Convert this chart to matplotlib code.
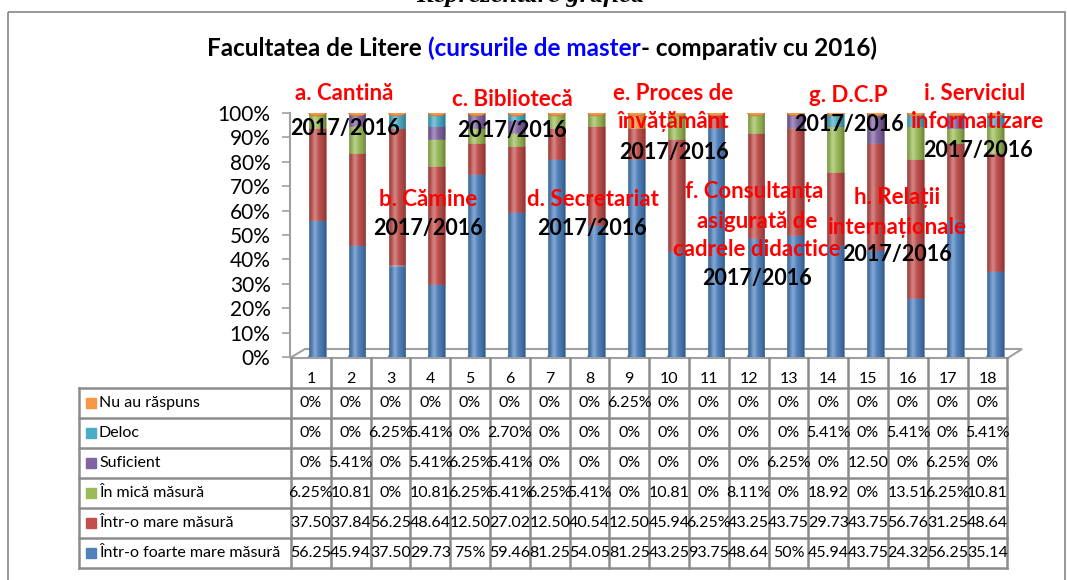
import numpy as np
import matplotlib
matplotlib.use('Agg')
import matplotlib.pyplot as plt
from matplotlib.patches import Rectangle, Ellipse, Polygon

plt.rcParams['font.family'] = ['Lato', 'DejaVu Sans']

# data (percent)
categories = [str(i) for i in range(1, 19)]
foarte_mare = [56.25, 45.94, 37.50, 29.73, 75, 59.46, 81.25, 54.05, 81.25,
               43.25, 93.75, 48.64, 50, 45.94, 43.75, 24.32, 56.25, 35.14]
mare = [37.50, 37.84, 56.25, 48.64, 12.50, 27.02, 12.50, 40.54, 12.50,
        45.94, 6.25, 43.25, 43.75, 29.73, 43.75, 56.76, 31.25, 48.64]
mica = [6.25, 10.81, 0, 10.81, 6.25, 5.41, 6.25, 5.41, 0,
        10.81, 0, 8.11, 0, 18.92, 0, 13.51, 6.25, 10.81]
suficient = [0, 5.41, 0, 5.41, 6.25, 5.41, 0, 0, 0,
             0, 0, 0, 6.25, 0, 12.50, 0, 6.25, 0]
deloc = [0, 0, 6.25, 5.41, 0, 2.70, 0, 0, 0,
         0, 0, 0, 0, 5.41, 0, 5.41, 0, 5.41]
nu_au = [0, 0, 0, 0, 0, 0, 0, 0, 6.25,
         0, 0, 0, 0, 0, 0, 0, 0, 0]

series = [foarte_mare, mare, mica, suficient, deloc, nu_au]
series_names = ['Într-o foarte mare măsură', 'Într-o mare măsură', 'În mică măsură',
                'Suficient', 'Deloc', 'Nu au răspuns']
colors = ['#4F81BD', '#C0504D', '#9BBB59', '#8064A2', '#4BACC6', '#F79646']

# text boxes over the chart: (text, colour, x px, y px)
notes = [
    ('a. Cantină', 'red', 344, 94), ('2017/2016', 'black', 345, 128),
    ('b. Cămine', 'red', 428, 199), ('2017/2016', 'black', 428, 228),
    ('c. Bibliotecă', 'red', 512, 100), ('2017/2016', 'black', 512, 131),
    ('d. Secretariat', 'red', 593, 199), ('2017/2016', 'black', 592, 228),
    ('e. Proces de', 'red', 673, 93), ('învățământ', 'red', 674, 122),
    ('2017/2016', 'black', 674, 152),
    ('f. Consultanța', 'red', 754, 191), ('asigurată de', 'red', 757, 221),
    ('cadrele didactice', 'red', 757, 250), ('2017/2016', 'black', 757, 279),
    ('g. D.C.P', 'red', 848, 95), ('2017/2016', 'black', 849, 124),
    ('h. Relații', 'red', 897, 198), ('internaționale', 'red', 897, 227),
    ('2017/2016', 'black', 897, 255),
    ('i. Serviciul', 'red', 975, 93), ('informatizare', 'red', 978, 122),
    ('2017/2016', 'black', 978, 150),
]

W, H = 1067, 580
fig = plt.figure(figsize=(W / 100, H / 100), dpi=100)

# background layer in pixel coordinates
ov = fig.add_axes([0, 0, 1, 1], zorder=0)
ov.set_xlim(0, W)
ov.set_ylim(H, 0)
ov.axis('off')

grid_c = '#8C8C8C'
ov.add_patch(Rectangle((8, 12), 1057, 600, fill=False, ec='#868686', lw=1.2))
ov.text(530, 2, 'Reprezentare grafică', family='Liberation Serif', style='italic',
        weight='bold', fontsize=19, ha='center', va='baseline', clip_on=False)

# title in two colours
parts = [('Facultatea de Litere ', 'black'), ('(cursurile de master', '#0000FF'),
         ('- comparativ cu 2016)', 'black')]
fig.canvas.draw()
r = fig.canvas.get_renderer()
objs = []
for s, c in parts:
    objs.append(ov.text(0, 48, s, color=c, fontsize=17.5, weight='bold', va='center'))
widths = [o.get_window_extent(r).width for o in objs]
x0 = 542 - sum(widths) / 2
for o, w in zip(objs, widths):
    o.set_x(x0)
    x0 += w

# floor of the 3d plot
ov.add_patch(Polygon([(290, 358), (305, 349), (1022, 349), (1008, 358)],
                     closed=True, fc='white', ec='#A0A0A0', lw=1.5))

# data table
TL, CW = 291, 39.8
rows_y = [388, 418, 448, 478, 508, 538, 568]
n = len(categories)
for k in range(n + 1):
    ov.plot([TL + k * CW] * 2, [358, 568], color=grid_c, lw=1.8)
ov.plot([79, 79], [388, 568], color=grid_c, lw=1.8)
for y in rows_y:
    ov.plot([79, TL + n * CW], [y, y], color=grid_c, lw=1.8)
for k, c in enumerate(categories):
    ov.text(TL + (k + 0.5) * CW, 379, c, ha='center', va='center', fontsize=11.5)


def fmt(v):
    if v == 0:
        return '0%'
    if v == int(v):
        return '%d%%' % v
    if v < 10:
        return '%.2f%%' % v
    return '%.2f' % v


for j, (name, vals, col) in enumerate(zip(series_names[::-1], series[::-1], colors[::-1])):
    yc = (rows_y[j] + rows_y[j + 1]) / 2
    ov.add_patch(Rectangle((86, yc - 5.5), 10, 10, color=col))
    ov.text(99, yc, name, ha='left', va='center', fontsize=11.5)
    for k, v in enumerate(vals):
        ov.text(TL + (k + 0.5) * CW, yc, fmt(v), ha='center', va='center', fontsize=11.5)

# chart
ax = fig.add_axes([290 / W, 1 - 357 / H, (1008 - 290) / W, (357 - 113) / H], zorder=1)
ax.patch.set_alpha(0)
x = np.arange(n) + 0.18
bw = 0.42
bottom = np.zeros(n)
for vals, col in zip(series, colors):
    ax.bar(x, vals, bw, bottom=bottom, color=col, ec=col, lw=0.4, zorder=2)
    bottom += np.array(vals)

# cylinder shading
t = np.linspace(0, 1, 40)
light = np.zeros((1, 40, 4))
light[..., :3] = 1
light[..., 3] = 0.3 * np.exp(-((t - 0.35) / 0.16) ** 2)
dark = np.zeros((1, 40, 4))
dark[..., 3] = 0.4 * np.abs(t - 0.45) ** 2 * 2.5
for xi in x:
    ax.imshow(dark, extent=[xi - bw / 2, xi + bw / 2, 0, 100], aspect='auto', zorder=3)
    ax.imshow(light, extent=[xi - bw / 2, xi + bw / 2, 0, 100], aspect='auto', zorder=3)
    ax.add_patch(Ellipse((xi, 0), bw, 2.4, color=colors[0], zorder=1))
    ax.add_patch(Ellipse((xi, 100), bw, 2.4, fc=colors[-1], ec='#C87832', lw=0.6, zorder=4))

ax.set_xlim(-0.5, n - 0.5)
ax.set_ylim(0, 100)
ax.set_yticks(np.arange(0, 101, 10))
ax.set_yticklabels(['%d%%' % v for v in range(0, 101, 10)], fontsize=15)
ax.set_xticks([])
for s in ['top', 'right', 'bottom']:
    ax.spines[s].set_visible(False)
ax.spines['left'].set_color('#A0A0A0')
ax.spines['left'].set_linewidth(1.5)
ax.tick_params(axis='y', color='#A0A0A0', length=6, width=1.2, pad=8)

for s, c, px, py in notes:
    fs = 15.5 if c == 'black' else 16
    ax.text(px, py, s, color=c, fontsize=fs, weight='bold', ha='center', va='center',
            transform=ov.transData, clip_on=False, zorder=6)

fig.savefig('out.png', dpi=100)
